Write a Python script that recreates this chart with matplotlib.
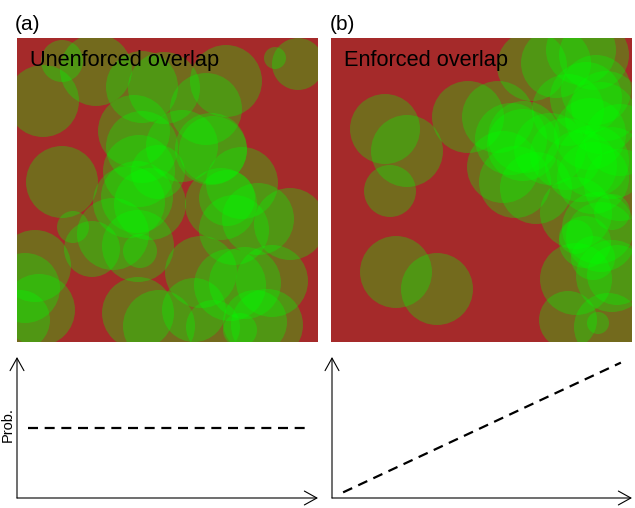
import numpy as np
import matplotlib
matplotlib.use('Agg')
from matplotlib import pyplot as plt
from matplotlib.patches import Circle

plt.rcParams['font.family'] = ['Liberation Sans', 'DejaVu Sans']

# circle centres / radii, in pixels inside each panel (y downward)
unenf_x = [26, 45, 79, 125, 147, 189, 209, 258, 281, 117, 125, 165, 194, 196, 122, 141,
           45, 112, 120, 133, 204, 225, 210, 217, 241, 273, 56, 75, 96, 121, 123, 18,
           8, 22, 3, 121, 142, 184, 177, 196, 213, 228, 255, 223, 250, 238]
unenf_y = [63, 23, 32, 49, 50, 71, 43, 20, 26, 93, 109, 108, 111, 112, 133, 134,
           144, 164, 159, 166, 166, 145, 160, 192, 181, 186, 189, 211, 196, 208, 213, 228,
           250, 272, 282, 275, 288, 234, 272, 289, 247, 245, 243, 292, 287, 284]
unenf_r = [36, 21, 36, 36, 36, 36, 36, 11, 26, 36, 36, 36, 36, 34, 36, 27,
           36, 36, 36, 36, 36, 36, 28, 35, 36, 36, 16, 28, 36, 36, 17, 36,
           35, 36, 30, 36, 36, 36, 32, 27, 36, 36, 36, 17, 36, 32]

enf_x = [54, 76, 59, 65, 106, 137, 167, 172, 184, 180, 193, 201, 225, 250, 263, 265,
         237, 259, 275, 192, 219, 235, 262, 205, 262, 250, 270, 245, 270, 254, 262, 281,
         245, 267, 245, 281, 237, 277, 267, 286, 289, 289, 255, 280]
enf_y = [91, 113, 153, 234, 251, 79, 79, 129, 144, 101, 99, 28, 25, 12, 17, 52,
         72, 96, 68, 107, 111, 116, 123, 150, 140, 128, 80, 175, 199, 204, 220, 238,
         241, 190, 199, 174, 282, 289, 285, 237, 102, 147, 60, 125]
enf_r = [35, 36, 26, 36, 36, 36, 36, 36, 36, 36, 36, 35, 35, 35, 35, 35,
         36, 36, 35, 36, 36, 36, 36, 36, 36, 36, 36, 36, 35, 26, 22, 36,
         36, 36, 17, 18, 29, 34, 11, 30, 36, 36, 36, 36]

# probability curves below each panel
prob_x = [0, 1]
prob_unenf = [0.5, 0.5]
prob_enf = [0.04, 0.96]

panel_tags = ['(a)', '(b)']
panel_titles = ['Unenforced overlap', 'Enforced overlap']

W, H = 635, 508
fig = plt.figure(figsize=(W / 100, H / 100), dpi=100)


def px_axes(left, top, width, height):
    return fig.add_axes([left / W, 1 - (top + height) / H, width / W, height / H])


def draw_circles(ax, xs, ys, rs):
    ax.set_facecolor('#a52a2a')
    for x, y, r in zip(xs, ys, rs):
        ax.add_patch(Circle((x, y), r, facecolor='#00ff00', alpha=0.3, lw=0))
    ax.set_xlim(0, 301)
    ax.set_ylim(304, 0)
    ax.set_xticks([])
    ax.set_yticks([])
    for s in ax.spines.values():
        s.set_visible(False)


def draw_prob(ax, ys):
    ax.plot(prob_x, ys, color='black', lw=1.6, linestyle=(0, (4.5, 3)))
    ax.set_xlim(-0.04, 1.04)
    ax.set_ylim(0, 1)
    ax.set_xticks([])
    ax.set_yticks([])
    for s in ax.spines.values():
        s.set_visible(False)
    arrow = dict(arrowstyle='->,head_length=0.9,head_width=0.5', color='black', lw=0.8,
                 shrinkA=0, shrinkB=0)
    ax.annotate('', xy=(0, 1), xytext=(0, 0), xycoords='axes fraction', arrowprops=arrow)
    ax.annotate('', xy=(1, 0), xytext=(0, 0), xycoords='axes fraction', arrowprops=arrow)


ax_a = px_axes(17, 38, 301, 304)
draw_circles(ax_a, unenf_x, unenf_y, unenf_r)
ax_b = px_axes(331, 38, 301, 304)
draw_circles(ax_b, enf_x, enf_y, enf_r)

for ax, title in zip([ax_a, ax_b], panel_titles):
    ax.text(13, 28, title, fontsize=15.7, color='black', va='baseline', ha='left')

fig.text(15 / W, 1 - 30 / H, panel_tags[0], fontsize=15, va='baseline')
fig.text(330 / W, 1 - 30 / H, panel_tags[1], fontsize=15, va='baseline')

pa = px_axes(17, 357, 301, 141)
draw_prob(pa, prob_unenf)
pb = px_axes(332, 357, 300, 141)
draw_prob(pb, prob_enf)
fig.text(8 / W, 1 - 425 / H, 'Prob.', fontsize=10.5, rotation=90, ha='center', va='center')

fig.savefig('out.png', dpi=100)
